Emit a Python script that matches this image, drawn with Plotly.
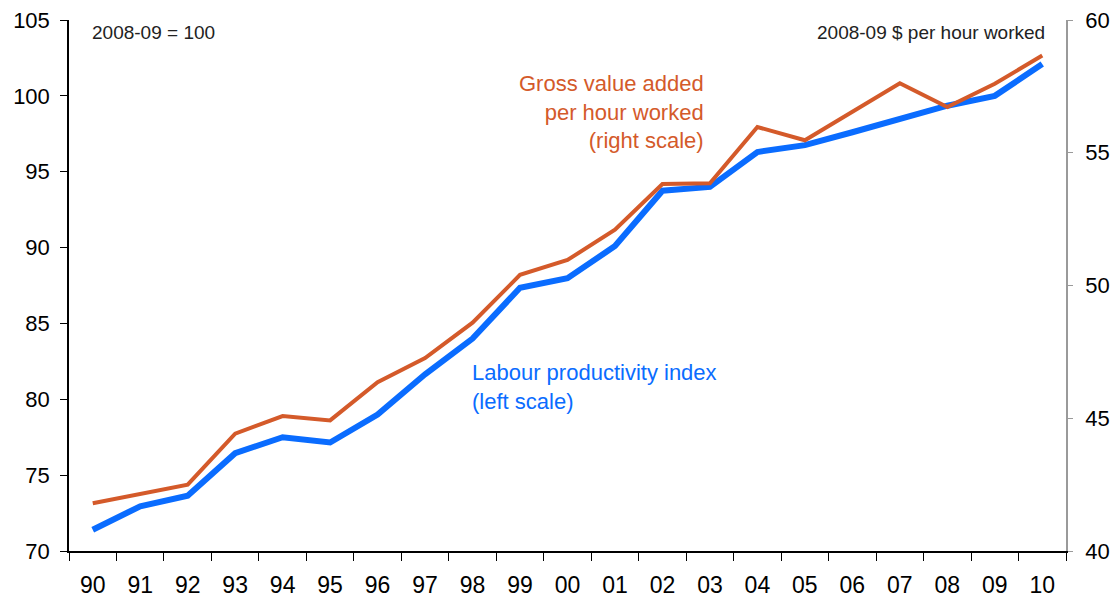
import plotly.graph_objects as go

# financial years, 1989-90 .. 2009-10
years = ["90", "91", "92", "93", "94", "95", "96", "97", "98", "99", "00",
         "01", "02", "03", "04", "05", "06", "07", "08", "09", "10"]

# labour productivity index, 2008-09 = 100 (left scale)
labour_index = [71.4, 72.95, 73.65, 76.45, 77.5, 77.15, 79.0, 81.65, 84.0, 87.35, 87.98,
                90.1, 93.75, 94.0, 96.3, 96.75, 97.6, 98.5, 99.35, 100.0, 102.1]

# gross value added per hour worked, 2008-09 $ (right scale)
gva_per_hour = [41.8, 42.15, 42.5, 44.42, 45.08, 44.92, 46.36, 47.27, 48.6, 50.4, 50.96,
                52.1, 53.82, 53.85, 55.97, 55.47, 56.53, 57.62, 56.72, 57.6, 58.66]

BLUE = "#0A6CFF"
ORANGE = "#D45A2A"
FONT = "Liberation Sans, Arial, sans-serif"

fig = go.Figure()

fig.add_trace(go.Scatter(
    x=years, y=gva_per_hour, yaxis="y2", mode="lines",
    name="Gross value added per hour worked",
    line=dict(color=ORANGE, width=4),
))
fig.add_trace(go.Scatter(
    x=years, y=labour_index, mode="lines",
    name="Labour productivity index",
    line=dict(color=BLUE, width=6),
))

# page body has an 8px margin, so the figure is a little smaller than the window
fig.update_layout(
    width=1110, height=593,
    margin=dict(l=61, r=52, t=12, b=50, autoexpand=False),
    paper_bgcolor="white", plot_bgcolor="white",
    showlegend=False,
    font=dict(family=FONT, size=22, color="black"),
    xaxis=dict(
        type="category", tickson="boundaries",
        range=[-0.5, len(years) - 0.5],
        showline=True, linecolor="black", linewidth=1.5,
        ticks="outside", ticklen=8, tickcolor="black",
        showgrid=False, zeroline=False, automargin=False,
        tickfont=dict(size=23), ticklabelstandoff=13,
        ticklabeloverflow="allow",
    ),
    yaxis=dict(
        range=[70, 105], dtick=5,
        showline=True, linecolor="black", linewidth=1.5,
        ticks="outside", ticklen=7, tickcolor="black",
        showgrid=False, zeroline=False, automargin=False,
        tickfont=dict(size=22), ticklabelstandoff=6,
        ticklabeloverflow="allow",
    ),
    yaxis2=dict(
        range=[40, 60], dtick=5, overlaying="y", side="right",
        showline=True, linecolor="#9a9a9a", linewidth=1.5,
        ticks="outside", ticklen=5, tickcolor="#9a9a9a",
        showgrid=False, zeroline=False, automargin=False,
        tickfont=dict(size=22), ticklabelstandoff=8,
        ticklabeloverflow="allow",
    ),
)

fig.add_annotation(
    text="2008-09 = 100", xref="paper", yref="paper",
    x=0.0214, y=0.977, xanchor="left", yanchor="middle",
    showarrow=False, font=dict(size=19, color="#222222"),
)
fig.add_annotation(
    text="2008-09 $ per hour worked", xref="paper", yref="paper",
    x=0.981, y=0.977, xanchor="right", yanchor="middle",
    showarrow=False, font=dict(size=19, color="#222222"),
)
fig.add_annotation(
    text="Gross value added<br>per hour worked<br>(right scale)",
    xref="paper", yref="paper", x=0.639, y=0.827,
    xanchor="right", yanchor="middle", align="right",
    showarrow=False, font=dict(size=22, color=ORANGE),
)
fig.add_annotation(
    text="Labour productivity index<br>(left scale)",
    xref="paper", yref="paper", x=0.4018, y=0.309,
    xanchor="left", yanchor="middle", align="left",
    showarrow=False, font=dict(size=22, color=BLUE),
)

fig.write_html("out.html")
